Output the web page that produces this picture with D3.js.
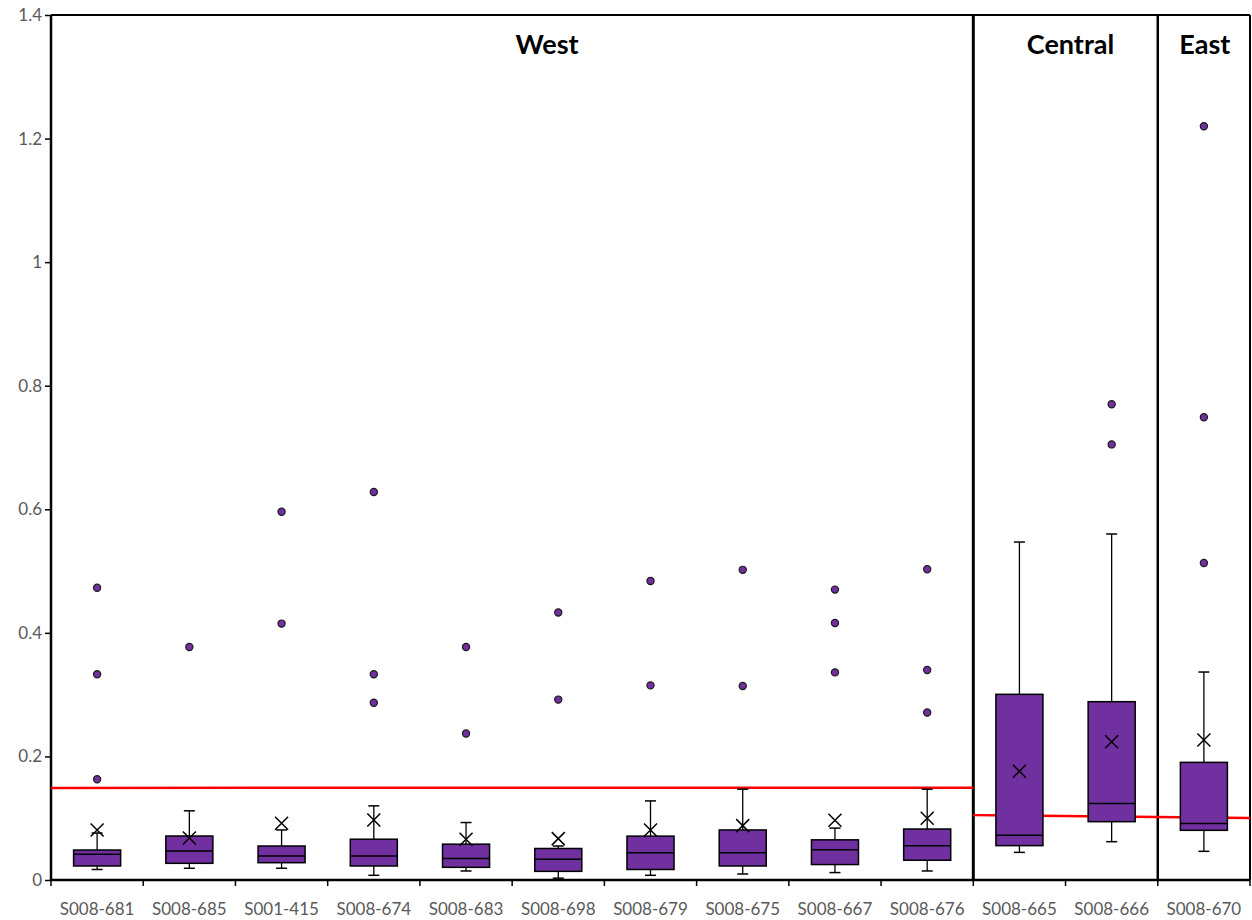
<!DOCTYPE html>
<html><head><meta charset="utf-8">
<script src="https://cdn.jsdelivr.net/npm/d3@7"></script>
<style>body{margin:0;background:#fff}svg{display:block}</style>
</head><body>
<script>
const categories = ["S008-681","S008-685","S001-415","S008-674","S008-683","S008-698","S008-679","S008-675","S008-667","S008-676","S008-665","S008-666","S008-670"];
const regions    = ["West","West","West","West","West","West","West","West","West","West","Central","Central","East"];
const whiskerLow = [0.017,0.019,0.019,0.0076,0.0146,0.003,0.0076,0.0097,0.012,0.0146,0.0447,0.062,0.0464];
const q1Values   = [0.0227,0.027,0.028,0.0227,0.0205,0.014,0.017,0.0227,0.025,0.032,0.0556,0.0944,0.0804];
const medians    = [0.0416,0.047,0.039,0.039,0.035,0.0334,0.044,0.044,0.049,0.0555,0.0723,0.124,0.0916];
const q3Values   = [0.0485,0.0712,0.055,0.066,0.058,0.051,0.071,0.081,0.065,0.0825,0.3005,0.2886,0.1904];
const whiskerHigh= [0.076,0.112,0.081,0.12,0.093,0.055,0.128,0.147,0.084,0.147,0.547,0.560,0.3366];
const means      = [0.081,0.068,0.092,0.097,0.066,0.067,0.081,0.088,0.0966,0.0998,0.176,0.2238,0.2265];
const outliers   = [[0.473,0.333,0.163],[0.377],[0.596,0.415],[0.628,0.333,0.287],[0.377,0.237],[0.433,0.292],[0.484,0.315],[0.502,0.314],[0.47,0.416,0.336],[0.503,0.34,0.271],[],[0.77,0.705],[1.22,0.749,0.513]];
const regionNames = ["West","Central","East"];
const westLimit = [0.149,0.1495];
const centralEastLimit = [0.105,0.1005];
const yTicks = [0,0.2,0.4,0.6,0.8,1,1.2,1.4];
const yTickLabels = ["0","0.2","0.4","0.6","0.8","1","1.2","1.4"];

(function(){
const W=1252,H=920;
const svg=d3.select("body").append("svg").attr("width",W).attr("height",H);
const pL=51,pR=1250,pT=15,pB=880;
const x=d3.scaleBand().domain(categories).range([pL,pR]).padding(0);
const y=d3.scaleLinear().domain([0,1.4]).range([pB,pT]);
const purple="#7030a0";
const font="Lato, 'Open Sans', sans-serif";

// y axis
const yAxis=d3.axisLeft(y).tickValues(yTicks).tickFormat((d,i)=>yTickLabels[i]).tickSize(6).tickSizeOuter(0);
const ga=svg.append("g").attr("transform",`translate(${pL},0)`).call(yAxis);
ga.select(".domain").remove();
ga.selectAll(".tick line").attr("stroke","#000").attr("stroke-width",1.5);
ga.selectAll(".tick text").attr("fill","#595959").style("font-family",font).style("font-size","17px").attr("x",-9);

// x ticks at band boundaries
const bounds=categories.map(c=>x(c)).concat([pR]);
svg.append("g").selectAll("line").data(bounds).join("line")
 .attr("x1",d=>d).attr("x2",d=>d).attr("y1",pB).attr("y2",pB+6)
 .attr("stroke","#000").attr("stroke-width",1.5);
svg.append("g").selectAll("text").data(categories).join("text")
 .attr("x",d=>x(d)+x.bandwidth()/2).attr("y",pB+35)
 .attr("text-anchor","middle").attr("fill","#595959")
 .style("font-family",font).style("font-size","17px").text(d=>d);

// region dividers & frame
const regionStart=regionNames.map(r=>x(categories[regions.indexOf(r)]));
const regionEnd=regionNames.map(r=>x(categories[regions.lastIndexOf(r)])+x.bandwidth());
const frame=svg.append("g");
frame.append("line").attr("x1",pL).attr("x2",pR).attr("y1",pT).attr("y2",pT).attr("stroke","#000").attr("stroke-width",2);
frame.append("line").attr("x1",pL).attr("x2",pR).attr("y1",pB).attr("y2",pB).attr("stroke","#000").attr("stroke-width",2.5);
frame.append("line").attr("x1",pL).attr("x2",pL).attr("y1",pT).attr("y2",pB).attr("stroke","#000").attr("stroke-width",2.5);
frame.append("line").attr("x1",pR).attr("x2",pR).attr("y1",pT).attr("y2",pB).attr("stroke","#000").attr("stroke-width",2);
frame.append("line").attr("x1",regionEnd[0]).attr("x2",regionEnd[0]).attr("y1",pT).attr("y2",pB).attr("stroke","#000").attr("stroke-width",3);
frame.append("line").attr("x1",regionEnd[1]).attr("x2",regionEnd[1]).attr("y1",pT).attr("y2",pB).attr("stroke","#000").attr("stroke-width",2.5);

// region titles
svg.append("g").selectAll("text").data(regionNames).join("text")
 .attr("x",(d,i)=>(regionStart[i]+regionEnd[i])/2 + [35,5,1][i])
 .attr("y",54).attr("text-anchor","middle").attr("fill","#000")
 .style("font-family",font).style("font-weight","bold").style("font-size","27px").text(d=>d);

// limit lines
svg.append("line").attr("x1",pL).attr("x2",regionEnd[0]).attr("y1",y(westLimit[0])).attr("y2",y(westLimit[1]))
 .attr("stroke","#ff0000").attr("stroke-width",2.5);
svg.append("line").attr("x1",regionEnd[0]).attr("x2",pR).attr("y1",y(centralEastLimit[0])).attr("y2",y(centralEastLimit[1]))
 .attr("stroke","#ff0000").attr("stroke-width",2.5);

// boxes
const bw=x.bandwidth()*0.51, cap=11;
const g=svg.append("g").selectAll("g").data(categories).join("g")
 .attr("transform",d=>`translate(${x(d)+x.bandwidth()/2},0)`);
g.append("line").attr("x1",0).attr("x2",0).attr("y1",(d,i)=>y(q3Values[i])).attr("y2",(d,i)=>y(whiskerHigh[i])).attr("stroke","#000").attr("stroke-width",1.3);
g.append("line").attr("x1",0).attr("x2",0).attr("y1",(d,i)=>y(q1Values[i])).attr("y2",(d,i)=>y(whiskerLow[i])).attr("stroke","#000").attr("stroke-width",1.3);
g.append("line").attr("x1",-cap/2).attr("x2",cap/2).attr("y1",(d,i)=>y(whiskerHigh[i])).attr("y2",(d,i)=>y(whiskerHigh[i])).attr("stroke","#000").attr("stroke-width",1.5);
g.append("line").attr("x1",-cap/2).attr("x2",cap/2).attr("y1",(d,i)=>y(whiskerLow[i])).attr("y2",(d,i)=>y(whiskerLow[i])).attr("stroke","#000").attr("stroke-width",1.5);
g.append("rect").attr("x",-bw/2).attr("width",bw)
 .attr("y",(d,i)=>y(q3Values[i])).attr("height",(d,i)=>y(q1Values[i])-y(q3Values[i]))
 .attr("fill",purple).attr("stroke","#000").attr("stroke-width",1.5);
g.append("line").attr("x1",-bw/2).attr("x2",bw/2).attr("y1",(d,i)=>y(medians[i])).attr("y2",(d,i)=>y(medians[i])).attr("stroke","#000").attr("stroke-width",1.5);
// mean X
const m=6.5;
g.append("path").attr("d",(d,i)=>{const yy=y(means[i]);return `M${-m},${yy-m}L${m},${yy+m}M${-m},${yy+m}L${m},${yy-m}`;})
 .attr("stroke","#000").attr("stroke-width",1.5).attr("fill","none");
// outliers
g.each(function(d,i){
  d3.select(this).selectAll("circle").data(outliers[i]).join("circle")
   .attr("cx",0).attr("cy",v=>y(v)).attr("r",3.6)
   .attr("fill",purple).attr("stroke","#1a1a1a").attr("stroke-width",1.2);
});
})();
</script>
</body></html>
